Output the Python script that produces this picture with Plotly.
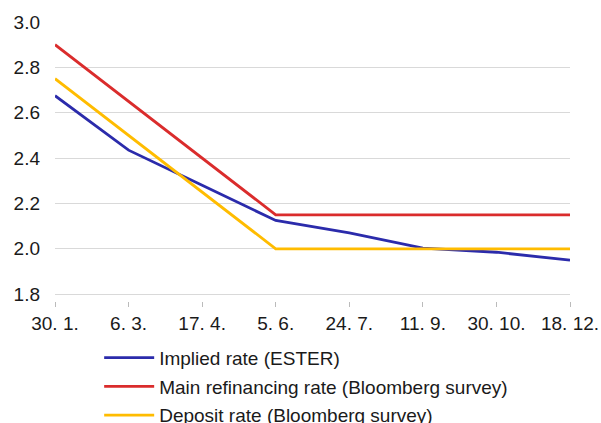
import plotly.graph_objects as go

# Meeting dates (ECB Governing Council monetary policy meetings)
dates = ["30. 1.", "6. 3.", "17. 4.", "5. 6.", "24. 7.", "11. 9.", "30. 10.", "18. 12."]

# Expected rates, %
implied_ester = [2.675, 2.435, 2.28, 2.125, 2.07, 2.003, 1.985, 1.95]
main_refi = [2.90, 2.65, 2.40, 2.15, 2.15, 2.15, 2.15, 2.15]
deposit = [2.75, 2.50, 2.25, 2.00, 2.00, 2.00, 2.00, 2.00]

series = [
    ("Implied rate (ESTER)", implied_ester, "#2b2bab"),
    ("Main refinancing rate (Bloomberg survey)", main_refi, "#da2c2c"),
    ("Deposit rate (Bloomberg survey)", deposit, "#ffbc00"),
]

fig = go.Figure()
for i, (name, vals, color) in enumerate(series):
    fig.add_trace(go.Scatter(
        x=list(range(len(dates))), y=vals, name=name, mode="lines",
        line=dict(color=color, width=2.8), legendgroup=f"g{i}",
    ))

font_family = "Liberation Sans, Arial, sans-serif"

fig.update_layout(
    width=601, height=423,
    margin=dict(l=55, r=31, t=22, b=122, autoexpand=False),
    paper_bgcolor="white", plot_bgcolor="white",
    font=dict(family=font_family, size=19, color="#1a1a1a"),
    showlegend=True,
    legend=dict(
        orientation="v", xref="container", x=0.165, xanchor="left",
        yref="container", y=0.199, yanchor="top",
        font=dict(size=19, color="#1a1a1a"), tracegroupgap=1,
        itemwidth=50, bgcolor="rgba(0,0,0,0)",
    ),
    xaxis=dict(
        tickmode="array", tickvals=list(range(len(dates))), ticktext=dates,
        range=[0, len(dates) - 1], showgrid=False, zeroline=False,
        showline=False, ticks="outside", ticklen=5, tickwidth=1,
        tickcolor="#bbbbbb", tickfont=dict(size=19),
    ),
    yaxis=dict(
        range=[1.77, 3.0], tickvals=[1.8, 2.0, 2.2, 2.4, 2.6, 2.8, 3.0],
        ticktext=["1.8", "2.0", "2.2", "2.4", "2.6", "2.8", "3.0"],
        showgrid=True, gridcolor="#d9d9d9", gridwidth=1, zeroline=False,
        showline=False, ticks="", ticklabelstandoff=14, tickfont=dict(size=19),
    ),
)

fig.write_html("out.html")
